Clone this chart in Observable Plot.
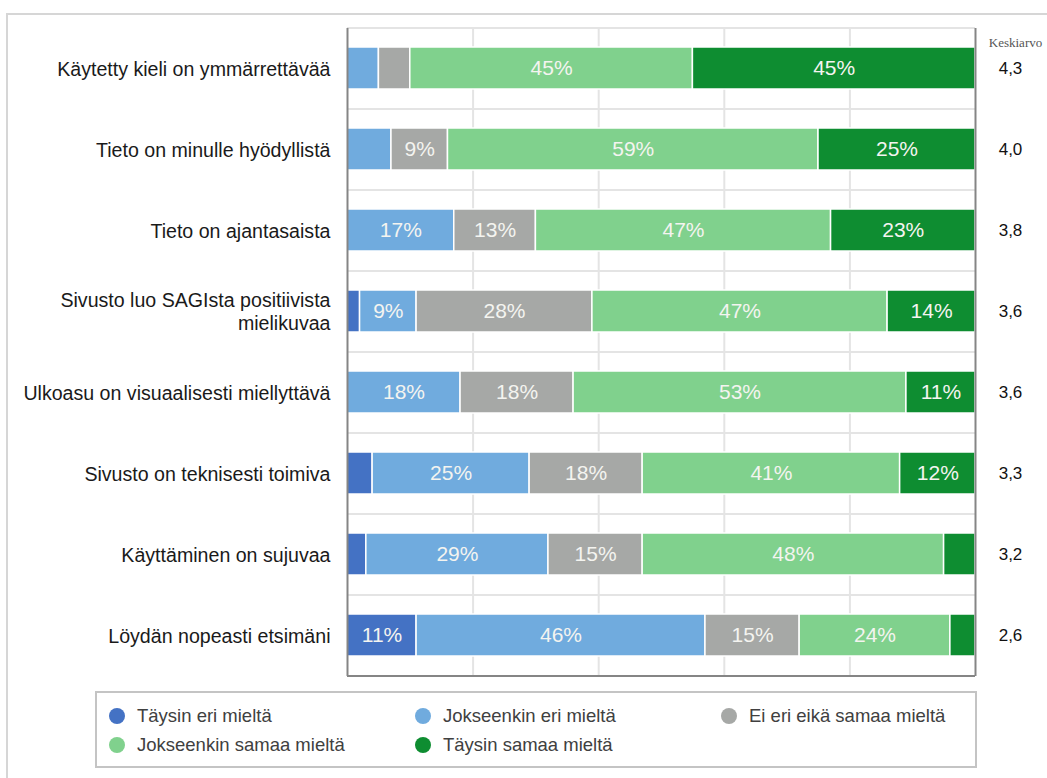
<!DOCTYPE html>
<html>
<head>
<meta charset="utf-8">
<script src="https://cdn.jsdelivr.net/npm/d3@7"></script>
<script src="https://cdn.jsdelivr.net/npm/@observablehq/plot@0.6"></script>
<style>
  body { margin: 0; background: #fff; font-family: "Liberation Sans", Arial, sans-serif; }
  #wrap { position: relative; width: 1047px; height: 778px; overflow: hidden; }
  #outer { position: absolute; left: 6px; top: 13px; width: 1100px; height: 800px; border-left: 2px solid #d6d6d6; border-top: 2px solid #d6d6d6; }
  #chart { position: absolute; left: 0; top: 0; }
  #legend { position: absolute; left: 95px; top: 691px; width: 878px; height: 73px; border: 2px solid #c4c4c4; box-sizing: content-box; }
  .li { position: absolute; display: flex; align-items: center; font-size: 18.5px; color: #404040; white-space: nowrap; }
  .dot { width: 16px; height: 16px; border-radius: 50%; margin-right: 12px; }
</style>
</head>
<body>
<div id="wrap">
  <div id="outer"></div>
  <div id="chart"></div>
  <div id="legend"></div>
</div>
<script>
const categories = [
  "Käytetty kieli on ymmärrettävää",
  "Tieto on minulle hyödyllistä",
  "Tieto on ajantasaista",
  "Sivusto luo SAGIsta positiivista\nmielikuvaa",
  "Ulkoasu on visuaalisesti miellyttävä",
  "Sivusto on teknisesti toimiva",
  "Käyttäminen on sujuvaa",
  "Löydän nopeasti etsimäni"
];
const seriesNames = ["Täysin eri mieltä", "Jokseenkin eri mieltä", "Ei eri eikä samaa mieltä", "Jokseenkin samaa mieltä", "Täysin samaa mieltä"];
const seriesColors = ["#4472C4", "#70ABDE", "#A6A8A6", "#80D18D", "#0E8D31"];
const taysinEri     = [0, 0, 0, 2, 0, 4, 3, 11];
const jokseenkinEri = [5, 7, 17, 9, 18, 25, 29, 46];
const eiEriEikaSama = [5, 9, 13, 28, 18, 18, 15, 15];
const jokseenkinSama= [45, 59, 47, 47, 53, 41, 48, 24];
const taysinSama    = [45, 25, 23, 14, 11, 12, 5, 4];
const means = [4.3, 4.0, 3.8, 3.6, 3.6, 3.3, 3.2, 2.6];
const xTicks = [0, 20, 40, 60, 80, 100];
const meanHeader = "Keskiarvo";

const seriesValues = [taysinEri, jokseenkinEri, eiEriEikaSama, jokseenkinSama, taysinSama];
const rows = [];
categories.forEach((c, i) => {
  seriesNames.forEach((s, j) => rows.push({cat: c, series: s, value: seriesValues[j][i]}));
});

const step = 648 / categories.length;

const chart = Plot.plot({
  width: 1047,
  height: 690,
  marginLeft: 347,
  marginRight: 72,
  marginTop: 28,
  marginBottom: 14,
  style: {fontFamily: "'Liberation Sans', Arial, sans-serif", fontSize: "16px", background: "transparent"},
  x: {domain: [0, 100], axis: null},
  y: {domain: categories, paddingInner: 0.48, paddingOuter: 0.24, axis: null},
  color: {domain: seriesNames, range: seriesColors},
  marks: [
    Plot.ruleX(xTicks.slice(1, -1), {stroke: "#e4e4e4", strokeWidth: 2}),
    Plot.ruleY(categories, {y: d => d, dy: -step / 2, stroke: "#e4e4e4", strokeWidth: 2}),
    Plot.barX(rows, Plot.stackX({x: "value", y: "cat", fill: "series", z: "series", stroke: "white", strokeWidth: 1.5})),
    Plot.text(rows, Plot.stackX({x: "value", y: "cat", z: "series", text: d => d.value >= 8 ? d.value + "%" : "", fill: "#F4F4F0", fontSize: 21})),
    Plot.ruleX([0, 100], {stroke: "#858585", strokeWidth: 2}),
    Plot.ruleY([categories[categories.length - 1]], {y: d => d, dy: step / 2, stroke: "#858585", strokeWidth: 2}),
    Plot.axisY({tickSize: 0, tickPadding: 17, fontSize: 19.6, lineHeight: 1.18, fill: "#1a1a1a", label: null}),
    Plot.text(categories, {y: d => d, text: (d, i) => means[i].toFixed(1).replace(".", ","), frameAnchor: "right", dx: 35, textAnchor: "middle", fontSize: 17, fill: "#111"}),
    Plot.text([meanHeader], {text: d => d, frameAnchor: "top-right", dx: 40, dy: 9, textAnchor: "middle", fontFamily: "'Liberation Serif', serif", fontSize: 13, fill: "#555"})
  ]
});
document.getElementById("chart").appendChild(chart);

const legend = document.getElementById("legend");
const pos = [[12, 12], [318, 12], [624, 12], [12, 41], [318, 41]];
seriesNames.forEach((s, j) => {
  const el = document.createElement("div");
  el.className = "li";
  el.style.left = pos[j][0] + "px";
  el.style.top = pos[j][1] + "px";
  el.innerHTML = `<span class="dot" style="background:${seriesColors[j]}"></span><span>${s}</span>`;
  legend.appendChild(el);
});
</script>
</body>
</html>
